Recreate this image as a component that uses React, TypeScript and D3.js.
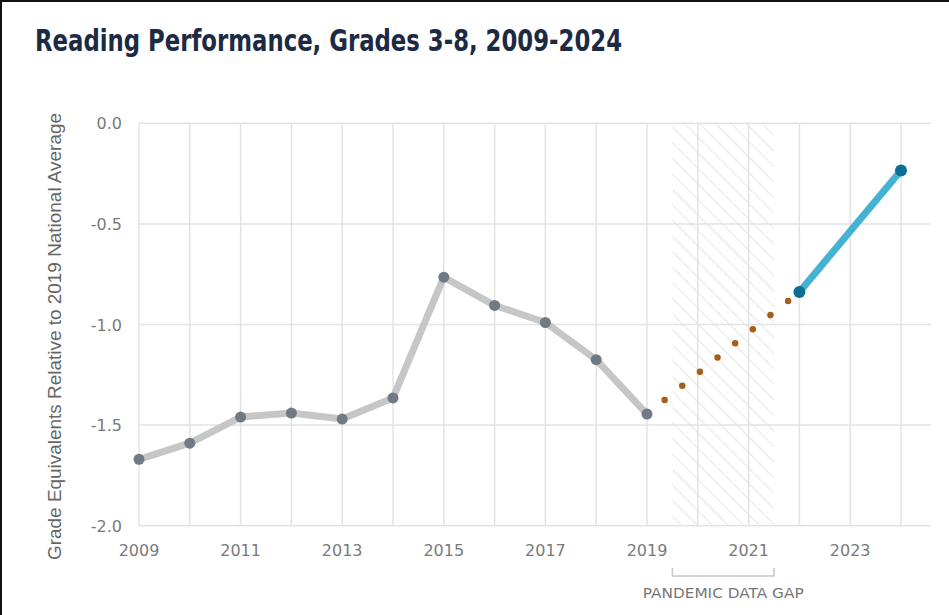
import React, { useEffect, useRef } from "react";
import * as d3 from "d3";

// pre-pandemic series (gray)
const preYears = [2009, 2010, 2011, 2012, 2013, 2014, 2015, 2016, 2017, 2018, 2019];
const preValues = [-1.67, -1.59, -1.46, -1.44, -1.47, -1.365, -0.765, -0.905, -0.99, -1.175, -1.445];

// post-pandemic series (blue)
const postYears = [2022, 2024];
const postValues = [-0.838, -0.235];

// dotted bridge across the data gap
const gapYears = [2019, 2022];
const gapValues = [-1.445, -0.838];

const gapStart = 2019.5;
const gapEnd = 2021.5;

const yTicks = [0, -0.5, -1.0, -1.5, -2.0];
const xGridYears = [2009, 2010, 2011, 2012, 2013, 2014, 2015, 2016, 2017, 2018, 2019, 2020, 2021, 2022, 2023, 2024];
const xLabelYears = [2009, 2011, 2013, 2015, 2017, 2019, 2021, 2023];

const App: React.FC = () => {
  const svgRef = useRef<SVGSVGElement | null>(null);

  useEffect(() => {
    if (!svgRef.current) return;
    const width = 949;
    const height = 615;

    const svg = d3.select(svgRef.current);
    svg.selectAll("*").remove();
    svg.attr("width", width).attr("height", height);

    const x = d3.scaleLinear().domain([2009, 2024]).range([139, 901]);
    const xRight = 931;
    const y = d3.scaleLinear().domain([-2, 0]).range([525.7, 123.3]);

    const labelFont = "'DejaVu Sans', 'Liberation Sans', sans-serif";

    /* frame */
    svg.append("rect").attr("x", 0).attr("y", 0).attr("width", width).attr("height", height).attr("fill", "#fff");
    svg.append("line").attr("x1", 0).attr("x2", width).attr("y1", 1).attr("y2", 1).attr("stroke", "#111").attr("stroke-width", 2);
    svg.append("line").attr("x1", 1).attr("x2", 1).attr("y1", 0).attr("y2", height).attr("stroke", "#111").attr("stroke-width", 2);

    /* title */
    svg
      .append("text")
      .attr("x", 35)
      .attr("y", 51)
      .attr("font-family", "'Liberation Sans Narrow', 'DejaVu Sans Condensed', 'Roboto', sans-serif")
      .attr("font-weight", 600)
      .attr("font-size", 31)
      .attr("fill", "#1d2a44")
      .attr("textLength", 587)
      .attr("lengthAdjust", "spacingAndGlyphs")
      .text("Reading Performance, Grades 3-8, 2009-2024");

    /* hatch pattern for the gap */
    const defs = svg.append("defs");
    const pat = defs
      .append("pattern")
      .attr("id", "hatch")
      .attr("patternUnits", "userSpaceOnUse")
      .attr("width", 11)
      .attr("height", 11)
      .attr("patternTransform", "rotate(-45)");
    pat.append("line").attr("x1", 0).attr("y1", 0).attr("x2", 0).attr("y2", 11).attr("stroke", "#dcdcdc").attr("stroke-width", 1.5);

    svg
      .append("rect")
      .attr("x", x(gapStart))
      .attr("y", y(0))
      .attr("width", x(gapEnd) - x(gapStart))
      .attr("height", y(-2) - y(0))
      .attr("fill", "url(#hatch)");

    /* grid */
    const grid = svg.append("g").attr("stroke", "#e3e3e3").attr("stroke-width", 1.5);
    grid
      .selectAll("line.h")
      .data(yTicks)
      .enter()
      .append("line")
      .attr("x1", x(2009))
      .attr("x2", xRight)
      .attr("y1", (d) => y(d))
      .attr("y2", (d) => y(d));
    grid
      .selectAll("line.v")
      .data(xGridYears)
      .enter()
      .append("line")
      .attr("x1", (d) => x(d))
      .attr("x2", (d) => x(d))
      .attr("y1", y(0))
      .attr("y2", y(-2));

    /* axis labels */
    svg
      .append("g")
      .selectAll("text")
      .data(yTicks)
      .enter()
      .append("text")
      .attr("x", 122)
      .attr("y", (d) => y(d) + 6)
      .attr("text-anchor", "end")
      .attr("font-family", labelFont)
      .attr("font-size", 16)
      .attr("fill", "#7a7a7a")
      .text((d) => d3.format(".1f")(d).replace("−", "-"));

    svg
      .append("g")
      .selectAll("text")
      .data(xLabelYears)
      .enter()
      .append("text")
      .attr("x", (d) => x(d))
      .attr("y", 556)
      .attr("text-anchor", "middle")
      .attr("font-family", labelFont)
      .attr("font-size", 16)
      .attr("fill", "#7a7a7a")
      .text((d) => String(d));

    svg
      .append("text")
      .attr("transform", `translate(61,336.5) rotate(-90)`)
      .attr("text-anchor", "middle")
      .attr("font-family", "'Liberation Sans', Arial, sans-serif")
      .attr("font-size", 18.5)
      .attr("fill", "#666")
      .attr("textLength", 447)
      .attr("lengthAdjust", "spacingAndGlyphs")
      .text("Grade Equivalents Relative to 2019 National Average");

    /* pandemic bracket */
    svg
      .append("path")
      .attr("d", `M${x(gapStart)},568 V576 H${x(gapEnd)} V568`)
      .attr("fill", "none")
      .attr("stroke", "#c8c8c8")
      .attr("stroke-width", 1.5);
    svg
      .append("text")
      .attr("x", (x(gapStart) + x(gapEnd)) / 2)
      .attr("y", 598)
      .attr("text-anchor", "middle")
      .attr("font-family", labelFont)
      .attr("font-size", 14)
      .attr("fill", "#777")
      .attr("textLength", 161)
      .attr("lengthAdjust", "spacingAndGlyphs")
      .text("PANDEMIC DATA GAP");

    /* series */
    const line = d3
      .line<[number, number]>()
      .x((d) => x(d[0]))
      .y((d) => y(d[1]));

    const pre = preYears.map((yr, i) => [yr, preValues[i]] as [number, number]);
    const post = postYears.map((yr, i) => [yr, postValues[i]] as [number, number]);
    const gap = gapYears.map((yr, i) => [yr, gapValues[i]] as [number, number]);

    svg
      .append("path")
      .attr("d", line(gap))
      .attr("fill", "none")
      .attr("stroke", "#a65e1a")
      .attr("stroke-width", 6.5)
      .attr("stroke-linecap", "round")
      .attr("stroke-dasharray", "0 22.6");

    svg
      .append("path")
      .attr("d", line(pre))
      .attr("fill", "none")
      .attr("stroke", "#c6c6c6")
      .attr("stroke-width", 7)
      .attr("stroke-linejoin", "round");

    svg
      .append("g")
      .selectAll("circle")
      .data(pre)
      .enter()
      .append("circle")
      .attr("cx", (d) => x(d[0]))
      .attr("cy", (d) => y(d[1]))
      .attr("r", 5.5)
      .attr("fill", "#6f7a84");

    svg
      .append("path")
      .attr("d", line(post))
      .attr("fill", "none")
      .attr("stroke", "#44b2d3")
      .attr("stroke-width", 7);

    svg
      .append("g")
      .selectAll("circle")
      .data(post)
      .enter()
      .append("circle")
      .attr("cx", (d) => x(d[0]))
      .attr("cy", (d) => y(d[1]))
      .attr("r", 6)
      .attr("fill", "#0b6e95");
  }, []);

  return (
    <svg
      ref={svgRef}
      style={{ position: "absolute", left: 0, top: 0, display: "block" }}
    />
  );
};

export default App;
